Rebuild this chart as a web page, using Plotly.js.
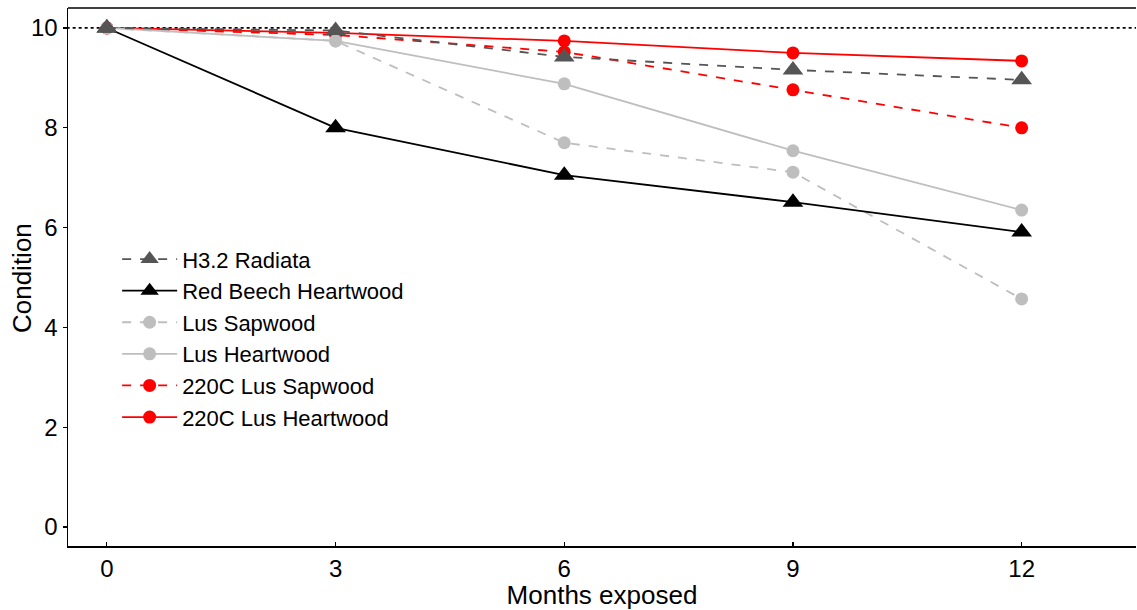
<!DOCTYPE html>
<html>
<head>
<meta charset="utf-8">
<script src="https://cdn.plot.ly/plotly-3.0.1.min.js"></script>
<style>
html,body{margin:0;padding:0;background:#fff;}
#chart{width:1137px;height:610px;}
</style>
</head>
<body>
<div id="chart"></div>
<script>
var months = [0, 3, 6, 9, 12];
var seriesNames = ["H3.2 Radiata", "Red Beech Heartwood", "Lus Sapwood", "Lus Heartwood", "220C Lus Sapwood", "220C Lus Heartwood"];
var radiata = [10, 9.95, 9.42, 9.16, 8.96];
var redBeech = [10, 8.0, 7.05, 6.51, 5.91];
var lusSap = [10, 9.74, 7.70, 7.11, 4.57];
var lusHeart = [10, 9.74, 8.88, 7.54, 6.35];
var c220Sap = [10, 9.86, 9.52, 8.76, 8.0];
var c220Heart = [10, 9.9, 9.74, 9.5, 9.34];
var referenceLevel = [10, 10];
var yTicks = [0, 2, 4, 6, 8, 10];

var styles = [
  {color: "#555555", dash: "dash", symbol: "triangle-up", size: 18},
  {color: "#000000", dash: "solid", symbol: "triangle-up", size: 18},
  {color: "#bebebe", dash: "dash", symbol: "circle", size: 13},
  {color: "#bebebe", dash: "solid", symbol: "circle", size: 13},
  {color: "#ff0000", dash: "dash", symbol: "circle", size: 13},
  {color: "#ff0000", dash: "solid", symbol: "circle", size: 13}
];
var values = [radiata, redBeech, lusSap, lusHeart, c220Sap, c220Heart];

var traces = [{
  x: [-1, 14], y: referenceLevel, mode: "lines", showlegend: false, hoverinfo: "skip",
  line: {color: "#000", width: 1.8, dash: "dot"}
}];
var order = [5,4,3,2,1,0];
order.forEach(function(i){
  traces.push({
    x: months, y: values[i], name: seriesNames[i], mode: "lines+markers",
    line: {color: styles[i].color, width: 1.8, dash: styles[i].dash},
    marker: {color: styles[i].color, symbol: styles[i].symbol, size: styles[i].size}
  });
});

var layout = {
  width: 1137, height: 610,
  margin: {l: 68, r: 1, t: 8, b: 64},
  paper_bgcolor: "#fff", plot_bgcolor: "#fff",
  font: {family: "Liberation Sans, Arial, sans-serif", color: "#000"},
  showlegend: true,
  legend: {
    x: 0.046, y: 0.572, xanchor: "left", yanchor: "top",
    traceorder: "reversed",
    font: {size: 22, color: "#000"},
    bgcolor: "rgba(0,0,0,0)", tracegroupgap: 0, itemwidth: 55
  },
  xaxis: {
    range: [-0.51, 13.5], tickvals: months, ticktext: months.map(String),
    showgrid: false, zeroline: false,
    showline: true, linecolor: "#000", linewidth: 1.5,
    ticks: "inside", ticklen: 4, tickwidth: 1.2, tickcolor: "#000",
    tickfont: {size: 24, color: "#000"}, ticklabelstandoff: 1,
    title: {text: "Months exposed", font: {size: 26, color: "#000"}, standoff: 1},
    mirror: false
  },
  yaxis: {
    range: [-0.38, 10.4], tickvals: yTicks, ticktext: yTicks.map(String),
    showgrid: false, zeroline: false,
    showline: true, linecolor: "#000", linewidth: 1.5,
    ticks: "outside", ticklen: 4, tickwidth: 1.2, tickcolor: "#000",
    tickfont: {size: 24, color: "#000"}, ticklabelstandoff: 0,
    title: {text: ""}
  },
  annotations: [{
    text: "Condition", xref: "paper", yref: "paper", x: -0.0431, y: 0.498,
    xanchor: "center", yanchor: "middle", textangle: -90, showarrow: false,
    font: {size: 26, color: "#000"}
  }],
  shapes: [{
    type: "line", xref: "paper", yref: "paper", x0: 0, x1: 1, y0: 1, y1: 1,
    line: {color: "#000", width: 1.5}
  }]
};

Plotly.newPlot("chart", traces, layout, {displayModeBar: false, staticPlot: true});
</script>
</body>
</html>
